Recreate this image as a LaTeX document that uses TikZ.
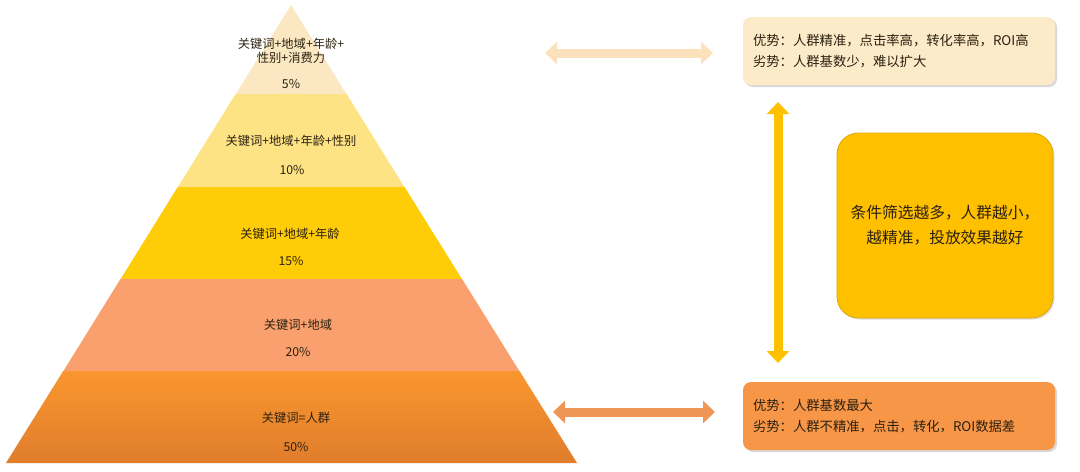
\documentclass[tikz,border=0pt]{standalone}
\usepackage{fontspec}
\newfontfamily\cjk{Noto Sans CJK SC}
\usetikzlibrary{arrows.meta,shadows}
\definecolor{layA}{HTML}{FBE8C3}
\definecolor{layB}{HTML}{FDE384}
\definecolor{layC}{HTML}{FFCC08}
\definecolor{layD}{HTML}{F9A06E}
\definecolor{layE}{HTML}{F9962F}
\definecolor{layF}{HTML}{E07D2C}
\definecolor{boxTop}{HTML}{FDEAC8}
\definecolor{boxMid}{HTML}{FFC000}
\definecolor{boxMidLine}{HTML}{D9A70A}
\definecolor{boxBot}{HTML}{F79646}
\definecolor{arrTop}{HTML}{FBE2BD}
\definecolor{arrBot}{HTML}{EE9656}
\definecolor{txt}{HTML}{2B2110}
\begin{document}
\begin{tikzpicture}[x=0.75pt, y=-0.75pt,
  every node/.style={font=\cjk\fontsize{9.2}{10.5}\selectfont, text=txt},
  fat/.style={line width=6.75pt, {Triangle[width=16.5pt,length=9pt]}-{Triangle[width=16.5pt,length=9pt]}},
  sidebox/.style={rounded corners=6pt, minimum width=234pt, minimum height=51pt, text width=219pt, align=left, inner xsep=7.5pt,
    font=\cjk\fontsize{10}{15.5}\selectfont, drop shadow={shadow xshift=1.5pt, shadow yshift=-1.5pt, opacity=0.3}}]
\useasboundingbox (0,0) rectangle (1080,471);
\fill[layA] (291,5) -- (346.6,94.3) -- (235.6,94.3) -- cycle;
\fill[layB] (235.6,94) -- (346.6,94) -- (404.6,187.3) -- (177.7,187.3) -- cycle;
\fill[layC] (177.7,187) -- (404.6,187) -- (462.1,279.3) -- (120.5,279.3) -- cycle;
\fill[layD] (120.5,279) -- (462.1,279) -- (519.5,371.3) -- (63.2,371.3) -- cycle;
\shade[top color=layE, bottom color=layF] (63.2,371) -- (519.5,371) -- (577,463) -- (6,463) -- cycle;
\node (l1) [align=center, font=\cjk\fontsize{9.2}{10.5}\selectfont] at (291,51) {关键词+地域+年龄+\\性别+消费力};
\node (p1) at (291,84) {5\%};
\node (l2) at (291,141) {关键词+地域+年龄+性别};
\node (p2) at (292,170) {10\%};
\node (l3) at (290,234) {关键词+地域+年龄};
\node (p3) at (291,261) {15\%};
\node (l4) at (298,325) {关键词+地域};
\node (p4) at (298,352) {20\%};
\node (l5) at (296,418) {关键词=人群};
\node (p5) at (296,447) {50\%};
\node (good) [sidebox, fill=boxTop] at (899,51) {优势：人群精准，点击率高，转化率高，ROI高\\劣势：人群基数少，难以扩大};
\node (poor) [sidebox, fill=boxBot] at (899,416) {优势：人群基数最大\\劣势：人群不精准，点击，转化，ROI数据差};
\node (rule) [rounded corners=16pt, minimum width=162pt, minimum height=138.75pt, fill=boxMid, draw=boxMidLine, line width=0.6pt,
  align=center, font=\cjk\fontsize{11.8}{18.5}\selectfont, drop shadow={shadow xshift=1.2pt, shadow yshift=-1.2pt, opacity=0.25}]
  at (945,225.5) {条件筛选越多，人群越小，\\越精准，投放效果越好};
\coordinate (ta) at (545,53);
\coordinate (tb) at (713,53);
\coordinate (ba) at (553,412);
\coordinate (bb) at (715,412);
\coordinate (va) at (778,102);
\coordinate (vb) at (778,363);
\draw[fat, arrTop] (ta) -- (tb);
\draw[fat, arrBot] (ba) -- (bb);
\draw[fat, boxMid] (va) -- (vb);
\end{tikzpicture}
\end{document}
